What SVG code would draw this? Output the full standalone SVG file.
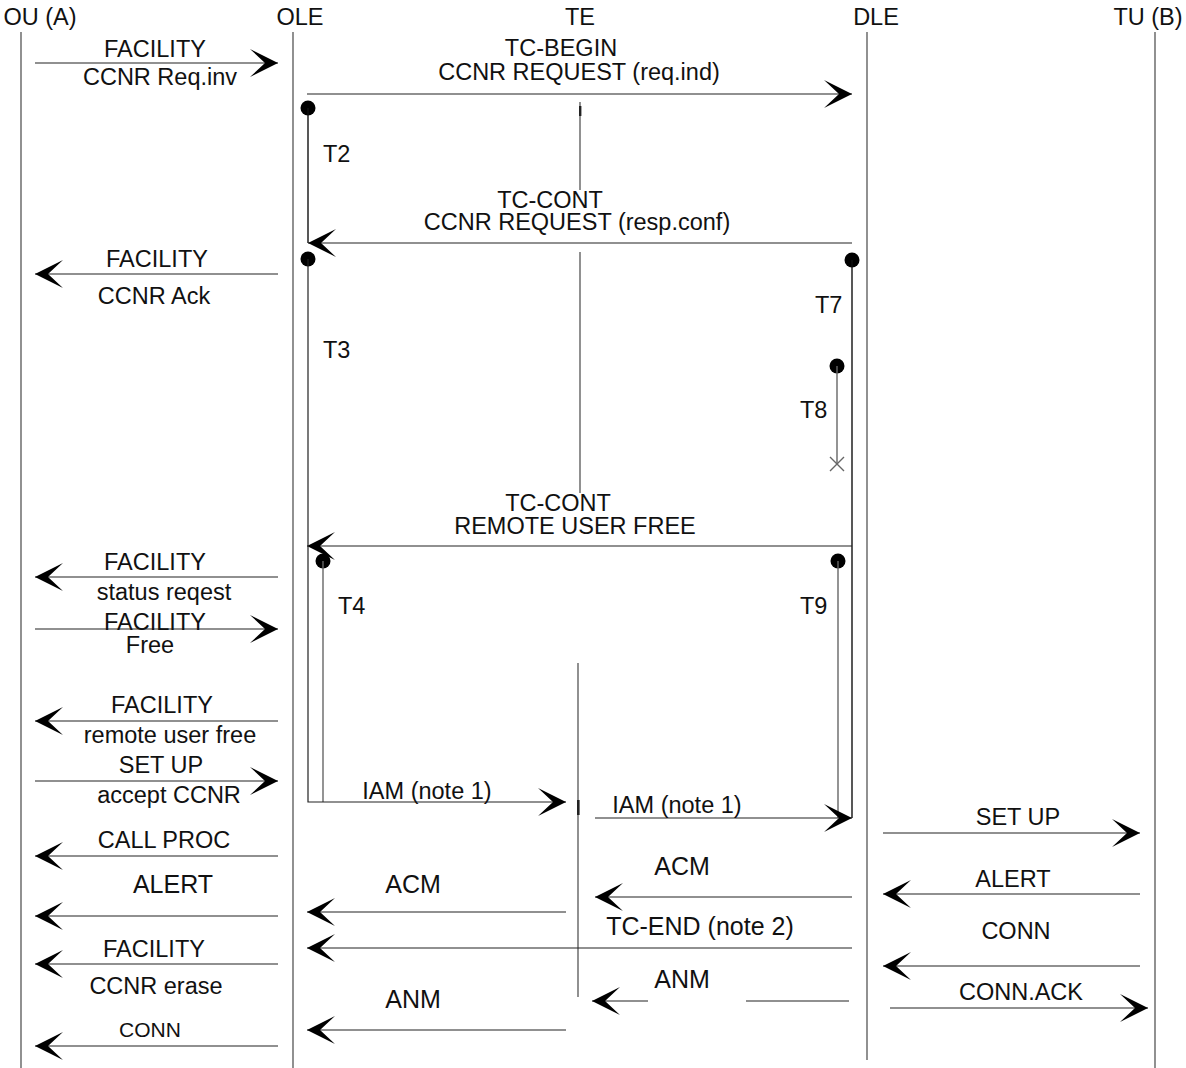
<svg xmlns="http://www.w3.org/2000/svg" width="1186" height="1068" viewBox="0 0 1186 1068">
<style>
text{font-family:"Liberation Sans",Arial,sans-serif;font-size:23.5px;fill:#111;text-anchor:middle}
.s{text-anchor:start}
.b{font-size:25px}
.sm{font-size:21px}
.life{stroke:#555;stroke-width:1.3;fill:none}
.msg{stroke:#222;stroke-width:1.2;fill:none}
.tk{stroke:#111;stroke-width:1.4;fill:none}
.tg{stroke:#666;stroke-width:1.4;fill:none}
.dot{fill:#000}
</style>
<defs>
<marker id="ah" markerUnits="userSpaceOnUse" viewBox="-30 -16 32 32" markerWidth="32" markerHeight="32" refX="0" refY="0" orient="auto">
<path d="M0,0 L-28,-14 L-13,0 L-28,14 Z" fill="#000"/>
</marker>
</defs>

<g id="OU_A">
<text x="40" y="25">OU (A)</text>
<line class="life" x1="21" y1="32" x2="21" y2="1068"/>
</g>
<g id="OLE">
<text x="300" y="25">OLE</text>
<line class="life" x1="293" y1="32" x2="293" y2="1068"/>
</g>
<g id="TE">
<text x="580" y="25">TE</text>
<line class="life" x1="580" y1="102" x2="580" y2="190"/>
<rect x="579" y="106" width="2.4" height="10" fill="#222"/>
<line class="life" x1="580" y1="252" x2="580" y2="493"/>
<line class="life" x1="578" y1="663" x2="578" y2="997"/>
<rect x="577" y="800" width="2.6" height="15" fill="#222"/>
</g>
<g id="DLE">
<text x="876" y="25">DLE</text>
<line class="life" x1="867" y1="32" x2="867" y2="1060"/>
</g>
<g id="TU_B">
<text x="1148" y="25">TU (B)</text>
<line class="life" x1="1155" y1="32" x2="1155" y2="1068"/>
</g>

<g id="timers">
<circle class="dot" cx="308" cy="108" r="7.5"/>
<line class="tk" x1="308" y1="108" x2="308" y2="243"/>
<text class="s" x="323" y="162">T2</text>
<circle class="dot" cx="308" cy="259" r="7.5"/>
<text class="s" x="323" y="358">T3</text>
<circle class="dot" cx="852" cy="260" r="7.5"/>
<line class="tk" x1="852" y1="260" x2="852" y2="818"/>
<text class="s" x="815" y="313">T7</text>
<circle class="dot" cx="837" cy="366" r="7.5"/>
<line class="tg" x1="837" y1="366" x2="837" y2="464"/>
<path class="tg" d="M830,457 L844,471 M844,457 L830,471" stroke-width="1.2"/>
<text class="s" x="800" y="418">T8</text>
<circle class="dot" cx="323" cy="561" r="7.5"/>
<line class="tg" x1="323" y1="561" x2="323" y2="802"/>
<text class="s" x="338" y="614">T4</text>
<circle class="dot" cx="838" cy="561" r="7.5"/>
<line class="tg" x1="838" y1="561" x2="838" y2="818"/>
<text class="s" x="800" y="614">T9</text>
</g>

<g id="connectors">
<line class="msg" x1="35" y1="63" x2="278" y2="63" marker-end="url(#ah)"/>
<line class="msg" x1="307" y1="94" x2="852" y2="94" marker-end="url(#ah)"/>
<line class="msg" x1="852" y1="243" x2="308" y2="243" marker-end="url(#ah)"/>
<line class="msg" x1="278" y1="274" x2="35" y2="274" marker-end="url(#ah)"/>
<line class="msg" x1="852" y1="546" x2="307" y2="546" marker-end="url(#ah)"/>
<line class="msg" x1="278" y1="577" x2="35" y2="577" marker-end="url(#ah)"/>
<line class="msg" x1="35" y1="629" x2="278" y2="629" marker-end="url(#ah)"/>
<line class="msg" x1="278" y1="721" x2="35" y2="721" marker-end="url(#ah)"/>
<line class="msg" x1="35" y1="781" x2="278" y2="781" marker-end="url(#ah)"/>
<path class="msg" d="M308,259 V802 H566" marker-end="url(#ah)"/>
<line class="msg" x1="595" y1="818" x2="852" y2="818" marker-end="url(#ah)"/>
<line class="msg" x1="883" y1="833" x2="1140" y2="833" marker-end="url(#ah)"/>
<line class="msg" x1="278" y1="856" x2="35" y2="856" marker-end="url(#ah)"/>
<line class="msg" x1="852" y1="897" x2="595" y2="897" marker-end="url(#ah)"/>
<line class="msg" x1="1140" y1="894" x2="883" y2="894" marker-end="url(#ah)"/>
<line class="msg" x1="566" y1="912" x2="307" y2="912" marker-end="url(#ah)"/>
<line class="msg" x1="278" y1="916" x2="35" y2="916" marker-end="url(#ah)"/>
<line class="msg" x1="852" y1="948" x2="307" y2="948" marker-end="url(#ah)"/>
<line class="msg" x1="278" y1="964" x2="35" y2="964" marker-end="url(#ah)"/>
<line class="msg" x1="1140" y1="966" x2="883" y2="966" marker-end="url(#ah)"/>
<line class="msg" x1="648" y1="1001" x2="592" y2="1001" marker-end="url(#ah)"/>
<line class="msg" x1="746" y1="1001" x2="849" y2="1001"/>
<line class="msg" x1="890" y1="1008" x2="1148" y2="1008" marker-end="url(#ah)"/>
<line class="msg" x1="566" y1="1030" x2="307" y2="1030" marker-end="url(#ah)"/>
<line class="msg" x1="278" y1="1046" x2="35" y2="1046" marker-end="url(#ah)"/>
</g>

<g id="labels">
<text x="155" y="57">FACILITY</text>
<text x="160" y="85">CCNR Req.inv</text>
<text x="561" y="56">TC-BEGIN</text>
<text x="579" y="80">CCNR REQUEST (req.ind)</text>
<text x="550" y="208">TC-CONT</text>
<text x="577" y="230">CCNR REQUEST (resp.conf)</text>
<text x="157" y="267">FACILITY</text>
<text x="154" y="304">CCNR Ack</text>
<text x="558" y="511">TC-CONT</text>
<text x="575" y="534">REMOTE USER FREE</text>
<text x="155" y="570">FACILITY</text>
<text x="164" y="600">status reqest</text>
<text x="155" y="630">FACILITY</text>
<text x="150" y="653">Free</text>
<text x="162" y="713">FACILITY</text>
<text x="170" y="743">remote user free</text>
<text x="161" y="773">SET UP</text>
<text x="169" y="803">accept CCNR</text>
<text x="427" y="799">IAM (note 1)</text>
<text x="677" y="813">IAM (note 1)</text>
<text x="1018" y="825">SET UP</text>
<text x="164" y="848">CALL PROC</text>
<text class="b" x="682" y="875">ACM</text>
<text x="1013" y="887">ALERT</text>
<text class="b" x="173" y="893">ALERT</text>
<text class="b" x="413" y="893">ACM</text>
<text class="b" x="700" y="935">TC-END (note 2)</text>
<text x="1016" y="939">CONN</text>
<text x="154" y="957">FACILITY</text>
<text class="b" x="682" y="988">ANM</text>
<text x="156" y="994">CCNR erase</text>
<text x="1021" y="1000">CONN.ACK</text>
<text class="b" x="413" y="1008">ANM</text>
<text class="sm" x="150" y="1037">CONN</text>
</g>
</svg>
